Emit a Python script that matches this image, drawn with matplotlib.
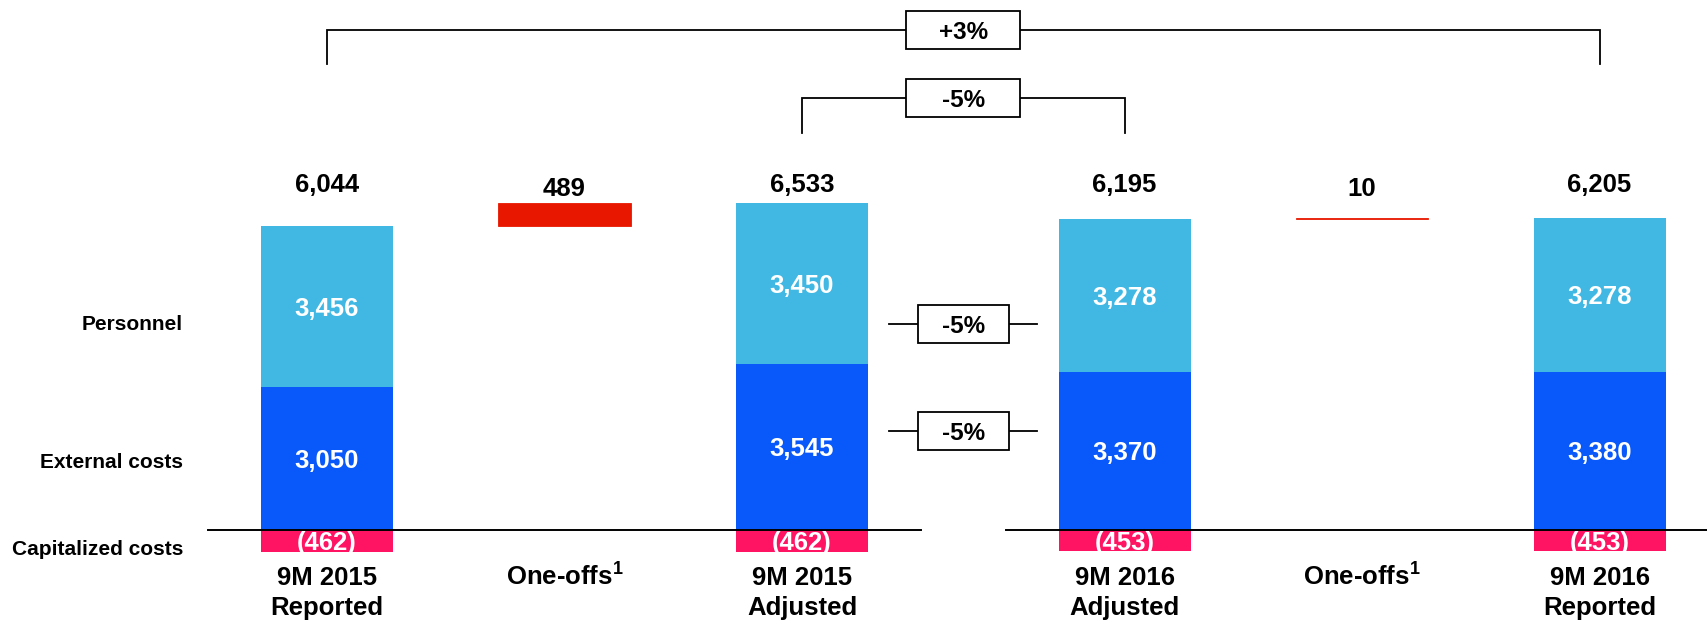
import matplotlib
matplotlib.use("Agg")
import matplotlib.pyplot as plt
from matplotlib.patches import Rectangle
from matplotlib import transforms

plt.rcParams['font.family'] = ['Liberation Sans', 'DejaVu Sans']
plt.rcParams['font.weight'] = 'bold'
plt.rcParams['mathtext.fontset'] = 'custom'
plt.rcParams['mathtext.rm'] = 'Liberation Sans:bold'
plt.rcParams['mathtext.bf'] = 'Liberation Sans:bold'

# ---------------- data ----------------
cat_line1 = ["9M 2015", "One-offs", "9M 2015", "9M 2016", "One-offs", "9M 2016"]
cat_line2 = ["Reported", "", "Adjusted", "Adjusted", "", "Reported"]
is_oneoff = [False, True, False, False, True, False]
external = [3050, 0, 3545, 3370, 0, 3380]
personnel = [3456, 0, 3450, 3278, 0, 3278]
capitalized = [-462, 0, -462, -453, 0, -453]
totals = [6044, 489, 6533, 6195, 10, 6205]
row_labels = ["Personnel", "External costs", "Capitalized costs"]
bracket_labels = ["+3%", "-5%"]
side_labels = ["-5%", "-5%"]

C_PERS = "#41B8E4"
C_EXT = "#0858FA"
C_CAP = "#FF1464"
C_RED = "#E81800"

# ---------------- layout ----------------
gap = 0.358
xs = [0, 1, 2, 3 + gap, 4 + gap, 5 + gap]
bw = 0.556
fig = plt.figure(figsize=(17.08, 6.22), dpi=100)
ax = fig.add_axes([0, 0, 1, 1])
ax.set_xlim(-1.3768, 5.8147)
ax.set_ylim(-1966, 11325)
ax.axis('off')

def capcenter(x, y, s, size, color='black', ha='center'):
    tr = transforms.offset_copy(ax.transData, fig=fig, y=-0.716 * size / 2, units='points')
    ax.text(x, y, s, fontsize=size, color=color, ha=ha, va='baseline',
            fontweight='bold', transform=tr, zorder=7)

NUM = 18.5
CAT = 18.5
PCT = 17.5
prev_top = 0
for i, x in enumerate(xs):
    if is_oneoff[i]:
        ax.bar(x, totals[i], bottom=prev_top, width=bw, color=C_RED,
               edgecolor=C_RED, linewidth=0.6)
        ax.text(x, 7137, str(totals[i]), fontsize=NUM,
                ha='center', va='baseline', fontweight='bold')
        prev_top = prev_top + totals[i]
    else:
        ax.bar(x, external[i], width=bw, color=C_EXT, linewidth=0)
        ax.bar(x, personnel[i], bottom=external[i], width=bw, color=C_PERS, linewidth=0)
        ax.bar(x, capitalized[i], width=bw, color=C_CAP, linewidth=0)
        capcenter(x, external[i] / 2, f"{external[i]:,}", NUM, 'white')
        capcenter(x, external[i] + personnel[i] / 2, f"{personnel[i]:,}", NUM, 'white')
        capcenter(x, capitalized[i] / 2, f"({-capitalized[i]:,})", NUM, 'white')
        ax.text(x, 7216, f"{totals[i]:,}", fontsize=NUM, ha='center',
                va='baseline', fontweight='bold')
        prev_top = external[i] + personnel[i]
    # category labels
    if is_oneoff[i]:
        ax.text(x, -1175, cat_line1[i] + r"$^{1}$", fontsize=CAT, ha='center',
                va='baseline', fontweight='bold')
    else:
        ax.text(x, -1175, cat_line1[i], fontsize=CAT, ha='center', va='baseline',
                fontweight='bold')
        ax.text(x, -1816, cat_line2[i], fontsize=CAT, ha='center', va='baseline',
                fontweight='bold')

# baseline segments
ax.plot([xs[0] - 0.5, xs[2] + 0.5], [0, 0], color='black', lw=1.4, zorder=5)
ax.plot([xs[3] - 0.5, 5.9], [0, 0], color='black', lw=1.4, zorder=5)

# row labels
ax.text(-0.606, 4274, row_labels[0], fontsize=15, ha='right', va='baseline', fontweight='bold')
ax.text(-0.606, 1318, row_labels[1], fontsize=15, ha='right', va='baseline', fontweight='bold')
ax.text(-0.606, -534, row_labels[2], fontsize=15, ha='right', va='baseline', fontweight='bold')

# brackets
def bracket(x0, x1, ytop, ybot, label, bwid):
    xm = (x0 + x1) / 2
    ax.plot([x0, x0, xm - bwid / 2], [ybot, ytop, ytop], color='black', lw=1.3,
            solid_joinstyle='miter')
    ax.plot([xm + bwid / 2, x1, x1], [ytop, ytop, ybot], color='black', lw=1.3,
            solid_joinstyle='miter')
    h = 812
    ax.add_patch(Rectangle((xm - bwid / 2, ytop - h / 2), bwid, h, facecolor='white',
                           edgecolor='black', lw=1.3, zorder=4))
    capcenter(xm, ytop, label, PCT)

bracket(xs[0], xs[5], 10684, 9950, bracket_labels[0], 0.478)
bracket(xs[2], xs[3], 9224, 8480, bracket_labels[1], 0.478)

# side comparison boxes
xm = (xs[2] + xs[3]) / 2
for yv, lab in zip([4402, 2110], side_labels):
    w = 0.381
    ax.plot([2.366, xm - w / 2], [yv, yv], color='black', lw=1.3)
    ax.plot([xm + w / 2, 2.988], [yv, yv], color='black', lw=1.3)
    ax.add_patch(Rectangle((xm - w / 2, yv - 406), w, 812, facecolor='white',
                           edgecolor='black', lw=1.3, zorder=4))
    capcenter(xm, yv, lab, PCT)

fig.savefig("out.png", dpi=100)
